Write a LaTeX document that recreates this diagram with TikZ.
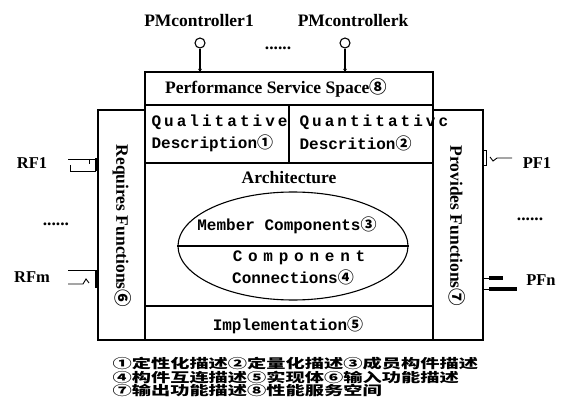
\documentclass[tikz,border=0pt]{standalone}
\usepackage{fontspec}
\setmainfont{Liberation Serif}
\setmonofont{Liberation Mono}
\newfontfamily\cjk{Noto Sans CJK SC}
\newfontfamily\cjkwide{Noto Sans CJK SC}[FakeStretch=1.48]
\usetikzlibrary{shapes.geometric,arrows.meta}
\newcommand{\cn}[1]{{\cjk #1}}
\tikzset{
  box/.style={draw, rectangle, inner sep=0pt, outer sep=0pt},
  serif/.style={inner sep=0pt, font=\bfseries\fontsize{17.5}{20}\selectfont},
  side/.style={inner sep=0pt, font=\bfseries\fontsize{16.5}{19}\selectfont},
  mono/.style={inner sep=0pt, font=\ttfamily\bfseries\fontsize{16}{18}\selectfont},
  spaced/.style={inner sep=0pt, font=\ttfamily\bfseries\fontsize{16}{18}\selectfont\addfontfeature{LetterSpace=#1}},
  legend/.style={inner sep=0pt, anchor=base west, font=\cjkwide\bfseries\fontsize{13}{13}\selectfont},
  bar/.style={line width=4.5pt},
}
\begin{document}
\begin{tikzpicture}[x=1pt, y=-1pt, line width=1.1pt]
\useasboundingbox (0,0) rectangle (566,420);
% side boxes
\node[box, minimum width=47pt, minimum height=230pt] (B_req) at (121.5,225) {};
\node[box, minimum width=50pt, minimum height=230pt] (B_prov) at (458,225) {};
% main frame
\node[box, minimum width=288pt, minimum height=33pt] (B_perf) at (289,88.5) {};
\node[box, minimum width=288pt, minimum height=235pt] (B_main) at (289,222.5) {};
\node[box, minimum width=144pt, minimum height=58pt] (B_qual) at (217,134) {};
\node[box, minimum width=144pt, minimum height=58pt] (B_quan) at (361,134) {};
\node[box, minimum width=288pt, minimum height=34pt] (B_impl) at (289,323) {};
\node[draw, ellipse, inner sep=0pt, minimum width=230pt, minimum height=108pt] (E_arch) at (293,246) {};
\draw (E_arch.west) -- (E_arch.east);
% controllers
\node[serif] (T_pm1) at (199,21) {PMcontroller1};
\node[serif] (T_pmk) at (353,21) {PMcontrollerk};
\node[draw, circle, inner sep=0pt, minimum size=10pt] (C_1) at (200,43) {};
\node[draw, circle, inner sep=0pt, minimum size=10pt] (C_k) at (345,43) {};
\draw[-{Triangle[length=3pt, width=3.5pt]}] (C_1) -- (C_1 |- B_perf.north);
\draw[-{Triangle[length=3pt, width=3.5pt]}] (C_k) -- (C_k |- B_perf.north);
\node[serif] (D_top) at (278,48) {......};
% texts in the frame
\node[serif] (T_perf) at (276,88) {Performance Service Space\cn{⑧}};
\node[spaced=19, anchor=west] (T_qual) at (151,122) {Qualitative};
\node[mono, anchor=west] (T_qdes) at (151,143) {Description\cn{①}};
\node[spaced=19, anchor=west] (T_quan) at (299,122) {Quantitativc};
\node[mono, anchor=west] (T_ndes) at (299,143) {Descrition\cn{②}};
\node[serif] (T_arch) at (289,178) {Architecture};
\node[mono] (T_memb) at (287,225) {Member Components\cn{③}};
\node[spaced=36] (T_comp) at (299,258) {Component};
\node[mono] (T_conn) at (293,277) {Connections\cn{④}};
\node[mono] (T_impl) at (288,325) {Implementation\cn{⑤}};
\node[serif, rotate=-90] (T_req) at (122,226) {Requires Functions\cn{⑥}};
\node[serif, rotate=-90] (T_prov) at (457,226) {Provides Functions\cn{⑦}};
% required interfaces
\node[side] (T_rf1) at (32,163) {RF1};
\node[side] (T_rfm) at (32,277) {RFm};
\node[serif] (D_left) at (56,224) {......};
\coordinate (RF1_in) at (B_req.west |- 0,159);
\coordinate (RFm_in) at (B_req.west |- 0,270);
\draw[line width=0.9pt] (RF1_in) ++(-30,0) -- (RF1_in) ++(-9,0) -- ++(0,5);
\draw[line width=0.9pt] (RF1_in) ++(-28,6) -- ++(0,6) -- ++(26,0);
\draw[line width=3pt] (RF1_in) ++(-1.5,-1) -- ++(0,13);
\draw[line width=0.9pt] (RFm_in) ++(-30,0) -- (RFm_in);
\draw[line width=0.9pt] (RFm_in) ++(-30,14) -- ++(15,0) -- ++(3,-5) -- ++(3,4);
\draw[line width=3pt] (RFm_in) ++(-1.5,0) -- ++(0,18);
% provided interfaces
\node[side] (T_pf1) at (537,163) {PF1};
\node[side] (T_pfn) at (541,280) {PFn};
\node[serif] (D_right) at (530,219) {......};
\coordinate (PF1_out) at (B_prov.east |- 0,158);
\coordinate (PFn_out) at (B_prov.east |- 0,278);
\draw[line width=0.9pt] (PF1_out) ++(0,-8) rectangle ++(3,15);
\draw[line width=0.9pt] (PF1_out) ++(7,-1) -- ++(3,4) -- ++(4,-3) -- ++(15,0);
\draw[line width=0.9pt] (PFn_out) -- ++(7,0);
\draw[bar, line width=4pt] (PFn_out) ++(6,0) -- ++(14,0);
\draw[line width=0.9pt] (PFn_out) ++(0,11) -- ++(7,0);
\draw[bar] (PFn_out) ++(6,11) -- ++(28,0);
% legend
\node[legend] (L_1) at (112,368.5) {①定性化描述②定量化描述③成员构件描述};
\node[legend] (L_2) at (112,382) {④构件互连描述⑤实现体⑥输入功能描述};
\node[legend] (L_3) at (112,395.5) {⑦输出功能描述⑧性能服务空间};
\end{tikzpicture}
\end{document}
